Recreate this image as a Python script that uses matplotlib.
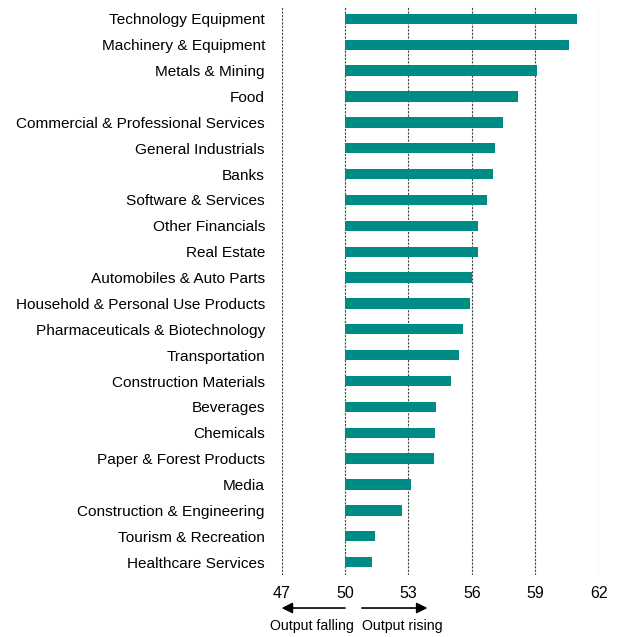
"""Indices de production par secteur (barres horizontales autour de 50)"""

import matplotlib.pyplot as plt
import numpy as np

plt.rcParams['font.family'] = ['Liberation Sans', 'DejaVu Sans']

# Données
secteurs = ['Technology Equipment', 'Machinery & Equipment', 'Metals & Mining', 'Food',
            'Commercial & Professional Services', 'General Industrials', 'Banks',
            'Software & Services', 'Other Financials', 'Real Estate',
            'Automobiles & Auto Parts', 'Household & Personal Use Products',
            'Pharmaceuticals & Biotechnology', 'Transportation', 'Construction Materials',
            'Beverages', 'Chemicals', 'Paper & Forest Products', 'Media',
            'Construction & Engineering', 'Tourism & Recreation', 'Healthcare Services']
valeurs = [61.0, 60.6, 59.1, 58.2, 57.5, 57.1, 57.0, 56.7, 56.3, 56.3, 56.0, 55.9,
           55.6, 55.4, 55.0, 54.3, 54.25, 54.2, 53.1, 52.7, 51.4, 51.3]
ticks_x = [47, 50, 53, 56, 59, 62]
base = 50

fig = plt.figure(figsize=(6.19, 6.37), dpi=100)
ax = fig.add_axes([0.455, 0.0973, 0.512, 0.8933])

y = np.arange(len(secteurs))
largeurs = np.array(valeurs) - base
ax.barh(y, largeurs, left=base, height=0.4, color='#008C86', zorder=3)

# Grille verticale en pointillés
for t in ticks_x:
    ax.axvline(t, color='#444444', linestyle=(0, (2, 1.2)), linewidth=0.8, zorder=1)

ax.set_xlim(47, 62)
ax.set_ylim(len(secteurs) - 0.5, -0.5)
ax.set_xticks(ticks_x)
ax.set_xticklabels([str(t) for t in ticks_x])
ax.set_yticks(y)
ax.set_yticklabels(secteurs)
ax.tick_params(axis='both', length=0, labelsize=11.05, colors='black')
ax.tick_params(axis='x', labelsize=11.5)
ax.tick_params(axis='y', pad=12)
ax.tick_params(axis='x', pad=8)
for s in ax.spines.values():
    s.set_visible(False)

# Flèches sous l'axe
trans = ax.get_xaxis_transform()
ax.annotate('', xy=(47, -0.058), xytext=(50, -0.058), xycoords=trans, textcoords=trans,
            arrowprops=dict(arrowstyle='-|>', color='black', lw=1.2, mutation_scale=16,
                            shrinkA=0, shrinkB=0),
            annotation_clip=False)
ax.annotate('', xy=(53.9, -0.058), xytext=(50.8, -0.058), xycoords=trans, textcoords=trans,
            arrowprops=dict(arrowstyle='-|>', color='black', lw=1.2, mutation_scale=16,
                            shrinkA=0, shrinkB=0),
            annotation_clip=False)
ax.text(48.45, -0.09, 'Output falling', transform=trans, ha='center', va='center', fontsize=10.2)
ax.text(52.7, -0.09, 'Output rising', transform=trans, ha='center', va='center', fontsize=10.2)

fig.savefig('out.png', dpi=100)
